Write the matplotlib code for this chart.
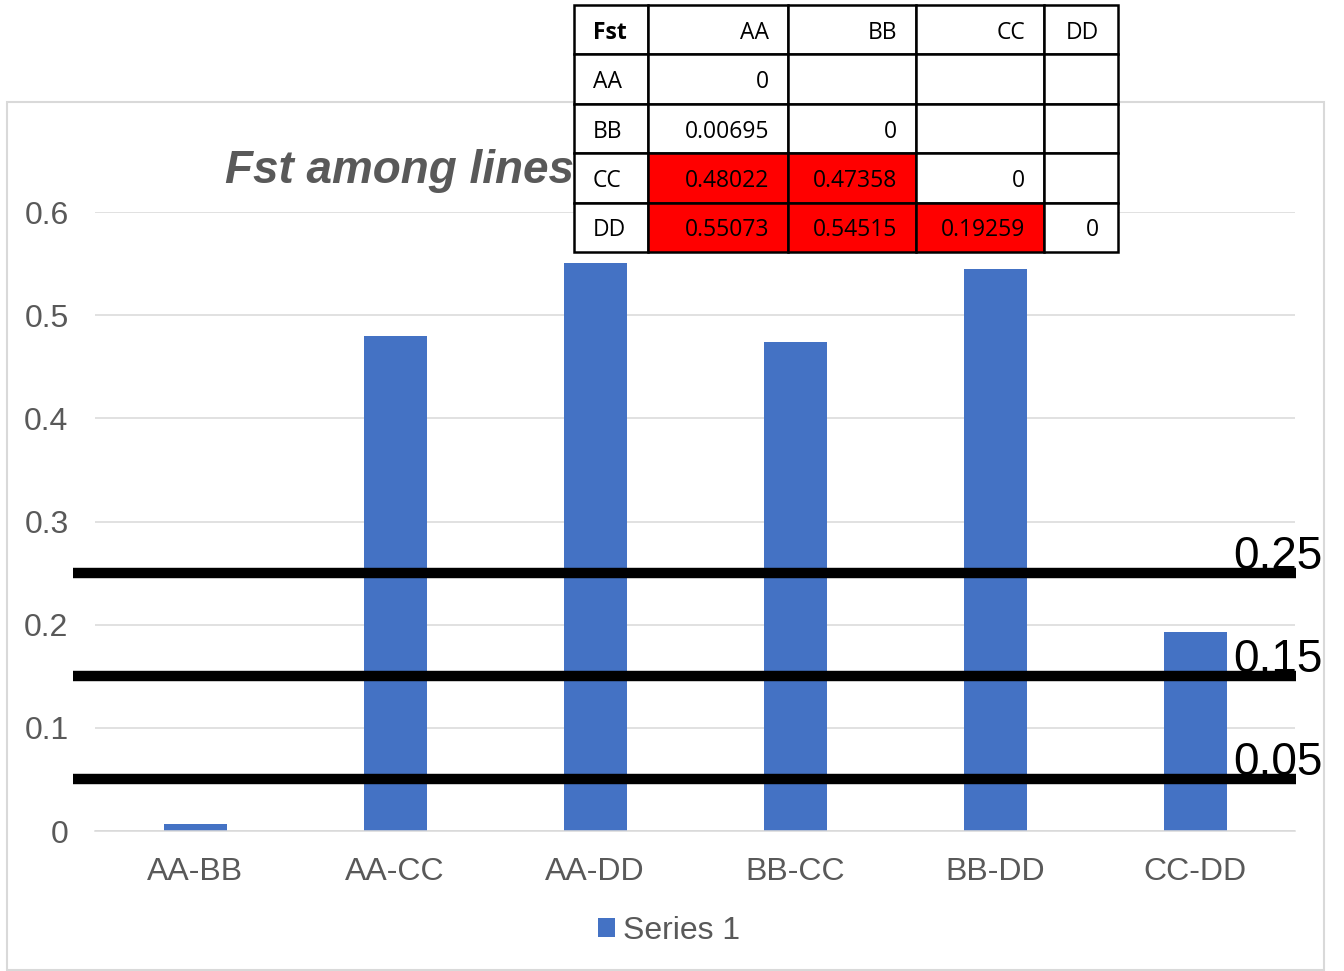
import matplotlib.pyplot as plt
from matplotlib.patches import Rectangle

plt.rcParams['font.family'] = ['Liberation Sans', 'DejaVu Sans']

# pairwise Fst values between lines
pairs = ['AA-BB', 'AA-CC', 'AA-DD', 'BB-CC', 'BB-DD', 'CC-DD']
fst_values = [0.00695, 0.48022, 0.55073, 0.47358, 0.54515, 0.19259]

# reference thresholds
thresholds = [0.25, 0.15, 0.05]
threshold_labels = ['0.25', '0.15', '0.05']

# lower-triangle Fst matrix shown as a table
lines = ['AA', 'BB', 'CC', 'DD']
matrix = [
    ['0', '', '', ''],
    ['0.00695', '0', '', ''],
    ['0.48022', '0.47358', '0', ''],
    ['0.55073', '0.54515', '0.19259', '0'],
]
highlight_above = 0.15

W, H = 1344, 971
fig = plt.figure(figsize=(W / 100, H / 100), dpi=100)
fig.patch.set_facecolor('white')

# chart frame
fig.patches.append(Rectangle((7 / W, 1 - 970 / H), (1324 - 7) / W, (970 - 102) / H,
                             transform=fig.transFigure, fill=False,
                             ec='#D9D9D9', lw=1.5, zorder=0))

ax = fig.add_axes([95 / W, 1 - 831 / H, 1200 / W, 619 / H])
ax.set_facecolor('none')
x = range(len(pairs))
ax.bar(x, fst_values, width=0.315, color='#4472C4', label='Series 1', zorder=2)
ax.set_xlim(-0.5, len(pairs) - 0.5)
ax.set_ylim(0, 0.6)
ax.set_yticks([0, 0.1, 0.2, 0.3, 0.4, 0.5, 0.6])
ax.set_yticklabels(['0', '0.1', '0.2', '0.3', '0.4', '0.5', '0.6'])
ax.set_xticks(list(x))
ax.set_xticklabels(pairs)
ax.tick_params(axis='both', length=0, labelsize=23, colors='#595959')
ax.tick_params(axis='y', pad=19)
ax.tick_params(axis='x', pad=18.5)
ax.grid(axis='y', color='#D9D9D9', lw=1.1, zorder=0)
ax.set_axisbelow(True)
for side in ['top', 'right', 'left']:
    ax.spines[side].set_visible(False)
ax.spines['bottom'].set_color('#D9D9D9')
ax.spines['bottom'].set_linewidth(1.1)

# threshold lines with their labels
for val, lab in zip(thresholds, threshold_labels):
    ax.hlines(val, -0.61, 5.505, color='black', lw=7.5, zorder=3, clip_on=False)
    ax.annotate(lab, xy=(5.19, val), xytext=(0, 3), textcoords='offset points',
                fontsize=33, va='baseline', ha='left', color='black',
                zorder=4, annotation_clip=False)

fig.text(225 / W, 1 - 183 / H, 'Fst among lines', fontsize=33, fontweight='bold',
         fontstyle='italic', color='#595959', va='baseline', ha='left', zorder=1)

fig.legend(loc='center', bbox_to_anchor=(669 / W, 1 - 931 / H), frameon=False,
           fontsize=23, labelcolor='#595959', handlelength=0.55, handleheight=0.55,
           handletextpad=0.25)

# Fst matrix table
tab = fig.add_axes([574 / W, 1 - 252 / H, 544 / W, 247 / H], zorder=5)
tab.set_xlim(0, 544)
tab.set_ylim(5 * 49.4, 0)
tab.axis('off')
col_w = [74, 140, 128, 128, 74]
row_h = 49.4
col_x = [sum(col_w[:i]) for i in range(len(col_w))]
pad = 19
table_rows = [['Fst'] + lines] + [[name] + vals for name, vals in zip(lines, matrix)]
for r, row in enumerate(table_rows):
    for c, txt in enumerate(row):
        fc = 'white'
        if r > 0 and c > 0 and txt and float(txt) > highlight_above:
            fc = '#FF0000'
        tab.add_patch(Rectangle((col_x[c], r * row_h), col_w[c], row_h,
                                fc=fc, ec='black', lw=1.8, clip_on=False))
        if not txt:
            continue
        if c == 0:
            tx, ha = col_x[c] + pad, 'left'
        else:
            tx, ha = col_x[c] + col_w[c] - pad, 'right'
        tab.text(tx, (r + 0.5) * row_h, txt, ha=ha, va='center_baseline',
                 fontsize=16.5, family=['Open Sans', 'DejaVu Sans'], color='black',
                 fontweight='bold' if (r == 0 and c == 0) else 'normal')

fig.savefig('out.png', dpi=100)
